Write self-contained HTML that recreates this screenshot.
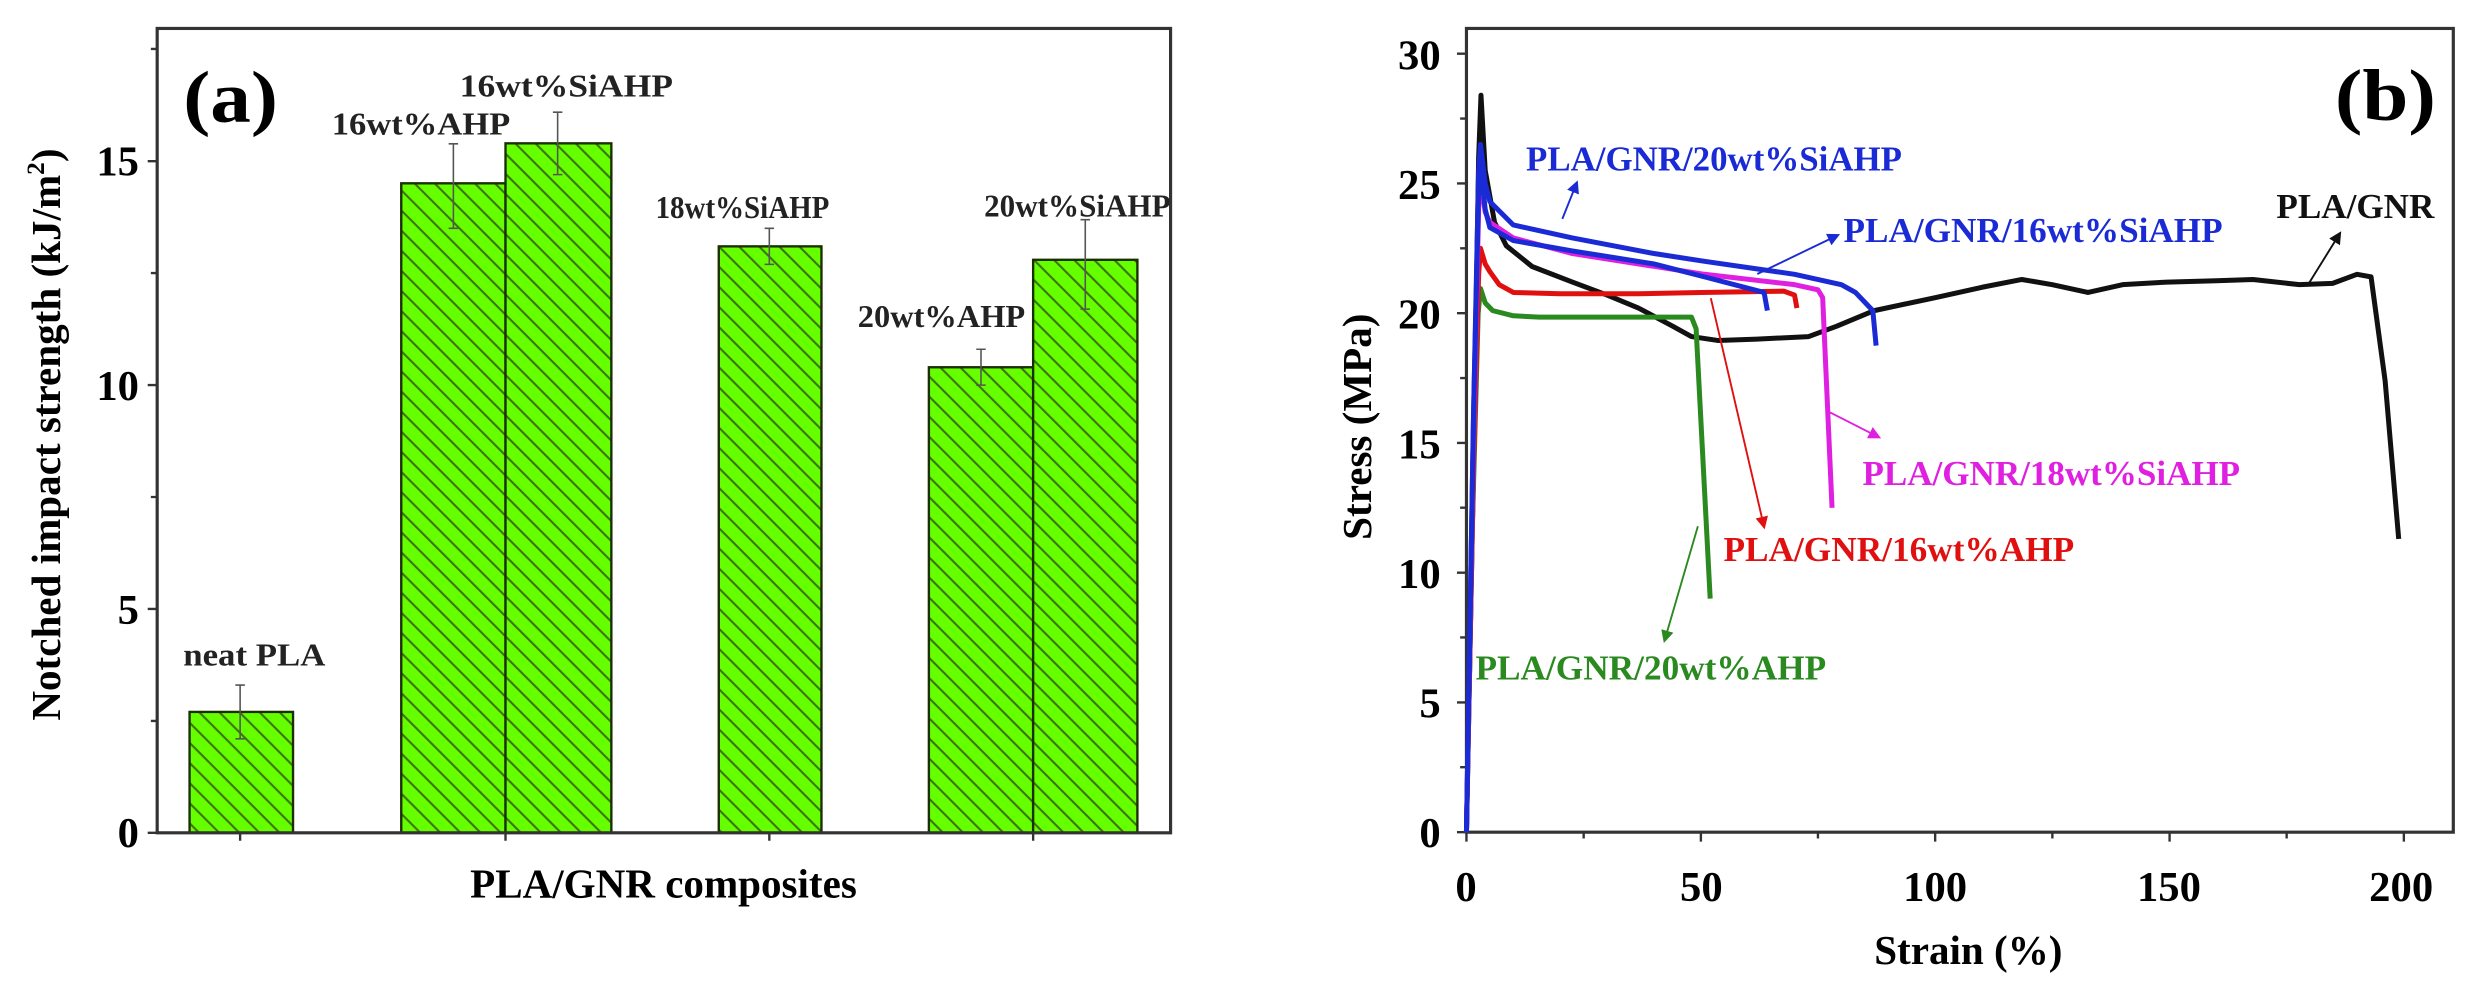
<!DOCTYPE html>
<html><head><meta charset="utf-8"><style>
html,body{margin:0;padding:0;background:#fff;}
svg{display:block;}
text{font-family:"Liberation Serif",serif;font-weight:bold;}
</style></head><body>
<svg width="2477" height="994" viewBox="0 0 1568 629" preserveAspectRatio="none" xmlns="http://www.w3.org/2000/svg">
<defs>
<pattern id="h" patternUnits="userSpaceOnUse" width="9" height="9" patternTransform="rotate(45)">
<rect width="9" height="9" fill="#66ff00"/>
<line x1="0" y1="4.5" x2="9" y2="4.5" stroke="#3a7010" stroke-width="1.3"/>
</pattern>
<marker id="ab" markerWidth="8" markerHeight="8" refX="6" refY="4" orient="auto" markerUnits="userSpaceOnUse"><path d="M0,0 L8,4 L0,8 z" fill="#1a2bd6"/></marker>
<marker id="am" markerWidth="8" markerHeight="8" refX="6" refY="4" orient="auto" markerUnits="userSpaceOnUse"><path d="M0,0 L8,4 L0,8 z" fill="#e020e0"/></marker>
<marker id="ar" markerWidth="8" markerHeight="8" refX="6" refY="4" orient="auto" markerUnits="userSpaceOnUse"><path d="M0,0 L8,4 L0,8 z" fill="#e01010"/></marker>
<marker id="ag" markerWidth="8" markerHeight="8" refX="6" refY="4" orient="auto" markerUnits="userSpaceOnUse"><path d="M0,0 L8,4 L0,8 z" fill="#2a8a20"/></marker>
<marker id="ak" markerWidth="8" markerHeight="8" refX="6" refY="4" orient="auto" markerUnits="userSpaceOnUse"><path d="M0,0 L8,4 L0,8 z" fill="#111"/></marker>
</defs>

<!-- LEFT PANEL -->
<g stroke="#1a3000" stroke-width="1.5">
<rect x="120" y="450.5" width="65.5" height="76.5" fill="url(#h)"/>
<rect x="254" y="116" width="66" height="411" fill="url(#h)"/>
<rect x="320" y="90.7" width="67" height="436.3" fill="url(#h)"/>
<rect x="455" y="155.9" width="65" height="371.1" fill="url(#h)"/>
<rect x="588" y="232.4" width="66" height="294.6" fill="url(#h)"/>
<rect x="654" y="164.4" width="66" height="362.6" fill="url(#h)"/>
</g>
<g stroke="#555" stroke-width="1">
<path d="M152,433.5V467.5M149,433.5h6M149,467.5h6"/>
<path d="M287,91V144.5M284,91h6M284,144.5h6"/>
<path d="M353,71V110.5M350,71h6M350,110.5h6"/>
<path d="M487,144.5V167.3M484,144.5h6M484,167.3h6"/>
<path d="M621,221V243.7M618,221h6M618,243.7h6"/>
<path d="M687,139V195.6M684,139h6M684,195.6h6"/>
</g>
<rect x="99.5" y="18" width="641.5" height="509" fill="none" stroke="#333" stroke-width="2"/>
<g stroke="#333" stroke-width="1.5">
<path d="M99.5,527h-6M99.5,385.3h-6M99.5,243.7h-6M99.5,102h-6M99.5,456.2h-4M99.5,314.5h-4M99.5,172.8h-4M99.5,31h-4"/>
<path d="M152,527v5M320,527v5M487,527v5M654,527v5"/>
</g>
<g font-size="27" text-anchor="end">
<text x="88" y="536">0</text><text x="88" y="395">5</text><text x="88" y="253">10</text><text x="88" y="111">15</text>
</g>
<text transform="translate(38,275) rotate(-90)" font-size="26" text-anchor="middle">Notched impact strength (kJ/m<tspan font-size="16" dy="-10">2</tspan><tspan dy="10">)</tspan></text>
<text x="420" y="568" font-size="26" text-anchor="middle">PLA/GNR composites</text>
<text x="116" y="77" font-size="46" textLength="60" lengthAdjust="spacingAndGlyphs">(a)</text>
<g font-size="20" fill="#222">
<text x="116" y="421" textLength="90" lengthAdjust="spacingAndGlyphs">neat PLA</text>
<text x="210" y="85" textLength="113" lengthAdjust="spacingAndGlyphs">16wt%AHP</text>
<text x="291" y="61" textLength="135" lengthAdjust="spacingAndGlyphs">16wt%SiAHP</text>
<text x="415" y="138" textLength="110" lengthAdjust="spacingAndGlyphs">18wt%SiAHP</text>
<text x="543" y="207" textLength="106" lengthAdjust="spacingAndGlyphs">20wt%AHP</text>
<text x="623" y="137" textLength="118" lengthAdjust="spacingAndGlyphs">20wt%SiAHP</text>
</g>

<!-- RIGHT PANEL -->
<rect x="928.3" y="18" width="624.7" height="508.6" fill="none" stroke="#333" stroke-width="2"/>
<g stroke="#333" stroke-width="1.5">
<path d="M928.3,526.6h-6M928.3,444.5h-6M928.3,362.4h-6M928.3,280.3h-6M928.3,198.2h-6M928.3,116.1h-6M928.3,34h-6"/>
<path d="M928.3,485.5h-4M928.3,403.4h-4M928.3,321.3h-4M928.3,239.2h-4M928.3,157.1h-4M928.3,75h-4"/>
<path d="M928.3,526.6v6M1076.7,526.6v6M1225,526.6v6M1373.4,526.6v6M1521.7,526.6v6"/>
<path d="M1002.5,526.6v4M1150.8,526.6v4M1299.2,526.6v4M1447.5,526.6v4"/>
</g>
<g font-size="27" text-anchor="end">
<text x="912" y="536">0</text><text x="912" y="454">5</text><text x="912" y="372">10</text><text x="912" y="290">15</text><text x="912" y="208">20</text><text x="912" y="126">25</text><text x="912" y="44">30</text>
</g>
<g font-size="27" text-anchor="middle">
<text x="928" y="570">0</text><text x="1077" y="570">50</text><text x="1225" y="570">100</text><text x="1373" y="570">150</text><text x="1520" y="570">200</text>
</g>
<text x="1246" y="610" font-size="26" text-anchor="middle">Strain (%)</text>
<text transform="translate(868,270) rotate(-90)" font-size="26" text-anchor="middle">Stress (MPa)</text>
<text x="1478" y="76" font-size="46" textLength="64" lengthAdjust="spacingAndGlyphs">(b)</text>

<g transform="matrix(2.967 0 0 -16.42 928.3 526.6)" fill="none" stroke-width="5" stroke-linejoin="round">
<path vector-effect="non-scaling-stroke" stroke="#111" d="M0,0 L1.5,14 L2.6,26 L3.1,28.4 L4,25.5 L6,23.5 L8.5,22.6 L14,21.8 L22.6,21.2 L30,20.7 L36.7,20.2 L44,19.5 L48,19.1 L53.6,18.95 L62,19 L73,19.1 L79,19.5 L87,20.1 L100,20.6 L110,21 L118.5,21.3 L125,21.1 L132.6,20.8 L140,21.1 L149.5,21.2 L160,21.25 L167.8,21.3 L177.7,21.1 L184.8,21.15 L190,21.5 L193,21.4 L196,17.4 L198.9,11.3"/>
<path vector-effect="non-scaling-stroke" stroke="#2a8a20" d="M0,0 L1.3,12 L2.5,20 L3,20.95 L4,20.4 L5.6,20.1 L10,19.9 L15.5,19.85 L30,19.85 L48,19.85 L49,19.4 L52,9"/>
<path vector-effect="non-scaling-stroke" stroke="#e01010" d="M0,0 L1.5,14 L2.6,21.5 L3,22.5 L4,21.9 L5,21.6 L7,21.1 L10,20.8 L20,20.75 L36.7,20.75 L50,20.8 L67.7,20.85 L70,20.7 L70.5,20.2"/>
<path vector-effect="non-scaling-stroke" stroke="#e020e0" d="M0,0 L1.5,15 L2.6,24 L3,25.2 L4,23.9 L5,23.5 L10,22.9 L22.6,22.3 L50.8,21.5 L70,21.1 L75,20.9 L76,20.6 L78,12.5"/>
<path vector-effect="non-scaling-stroke" stroke="#1a2bd6" d="M0,0 L1.5,16 L2.6,24.8 L3,25.7 L4,24 L5,23.3 L10,22.8 L22.6,22.4 L40,21.9 L50.8,21.4 L63.5,20.8 L64.2,20.1"/>
<path vector-effect="non-scaling-stroke" stroke="#1a2bd6" d="M0,0 L1.5,16 L2.6,25.5 L3,26.5 L4,25 L5,24.3 L10,23.4 L22.6,22.9 L40,22.3 L50.8,22 L70,21.5 L80,21.1 L83,20.8 L86.7,20.1 L87.4,18.75"/>
</g>

<g stroke-width="1.2" fill="none">
<path d="M989,138.5 L998,116" stroke="#1a2bd6" marker-end="url(#ab)"/>
<path d="M1112.4,173.4 L1163,149" stroke="#1a2bd6" marker-end="url(#ab)"/>
<path d="M1462,178.6 L1481,148" stroke="#111" marker-end="url(#ak)"/>
<path d="M1158.5,261 L1189,276.5" stroke="#e020e0" marker-end="url(#am)"/>
<path d="M1083,188.7 L1116.6,333" stroke="#e01010" marker-end="url(#ar)"/>
<path d="M1074.8,333 L1053.8,405" stroke="#2a8a20" marker-end="url(#ag)"/>
</g>
<g font-size="22">
<text x="966" y="108" fill="#1a2bd6" textLength="238" lengthAdjust="spacingAndGlyphs">PLA/GNR/20wt%SiAHP</text>
<text x="1167" y="153" fill="#1a2bd6" textLength="240" lengthAdjust="spacingAndGlyphs">PLA/GNR/16wt%SiAHP</text>
<text x="1441" y="138" fill="#111" textLength="100" lengthAdjust="spacingAndGlyphs">PLA/GNR</text>
<text x="1179" y="307" fill="#e020e0" textLength="239" lengthAdjust="spacingAndGlyphs">PLA/GNR/18wt%SiAHP</text>
<text x="1091" y="355" fill="#e01010" textLength="222" lengthAdjust="spacingAndGlyphs">PLA/GNR/16wt%AHP</text>
<text x="934" y="430" fill="#2a8a20" textLength="222" lengthAdjust="spacingAndGlyphs">PLA/GNR/20wt%AHP</text>
</g>
</svg>
</body></html>
